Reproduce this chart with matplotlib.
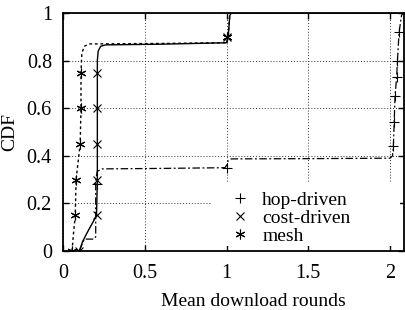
import matplotlib
matplotlib.use("Agg")
import matplotlib.pyplot as plt
from matplotlib.lines import Line2D
from matplotlib.patches import Rectangle

plt.rcParams['font.family'] = ['Liberation Serif', 'DejaVu Serif']

# hop-driven (dash-dot)
hop_x = [0.10, 0.13, 0.19, 0.20, 0.20, 0.21, 0.24, 0.60, 0.99, 1.00, 1.01, 1.03, 1.50, 2.00, 2.015, 2.02, 2.025, 2.03, 2.04, 2.045, 2.055, 2.07, 2.08]
hop_y = [0.00, 0.05, 0.05, 0.06, 0.30, 0.335, 0.345, 0.347, 0.350, 0.36, 0.38, 0.387, 0.388, 0.390, 0.40, 0.44, 0.54, 0.65, 0.73, 0.80, 0.92, 0.99, 1.00]
hop_mx = [0.21, 1.00, 2.02, 2.025, 2.03, 2.04, 2.045, 2.055]
hop_my = [0.28, 0.35, 0.44, 0.54, 0.65, 0.73, 0.80, 0.92]

# cost-driven (solid)
cost_x = [0.10, 0.12, 0.15, 0.19, 0.205, 0.21, 0.21, 0.21, 0.215, 0.23, 0.26, 0.60, 1.00, 1.01, 1.02, 1.03, 2.085]
cost_y = [0.00, 0.04, 0.08, 0.13, 0.15, 0.30, 0.60, 0.80, 0.84, 0.86, 0.866, 0.869, 0.875, 0.90, 0.99, 1.00, 1.00]
cost_mx = [0.10, 0.21, 0.21, 0.21, 0.21, 0.21, 1.00]
cost_my = [0.00, 0.15, 0.30, 0.45, 0.60, 0.75, 0.90]

# mesh (dashed)
mesh_x = [0.055, 0.065, 0.075, 0.08, 0.105, 0.11, 0.11, 0.115, 0.13, 0.16, 0.60, 1.00, 1.01, 1.02, 2.085]
mesh_y = [0.00, 0.08, 0.15, 0.30, 0.45, 0.60, 0.75, 0.83, 0.86, 0.87, 0.872, 0.875, 0.90, 1.00, 1.00]
mesh_mx = [0.055, 0.075, 0.08, 0.105, 0.11, 0.11, 1.00]
mesh_my = [0.00, 0.15, 0.30, 0.45, 0.60, 0.75, 0.90]

labels = ["hop-driven", "cost-driven", "mesh"]
xticks = [0, 0.5, 1, 1.5, 2]
yticks = [0, 0.2, 0.4, 0.6, 0.8, 1]

FS = 14.5
STAR = (6, 2, 0)

fig = plt.figure(figsize=(4.06, 3.10), dpi=100)
ax = fig.add_axes([63/406, 59/310, 341/406, 238/310])

ax.plot(hop_x, hop_y, color="black", lw=0.9, linestyle=(0, (6, 2, 1.5, 2)))
ax.plot(hop_mx, hop_my, "+", color="black", ms=7, mew=0.8)
ax.plot(cost_x, cost_y, color="black", lw=1.0, linestyle="-")
ax.plot(cost_mx, cost_my, "x", color="black", ms=5.5, mew=0.8)
ax.plot(mesh_x, mesh_y, color="black", lw=1.0, linestyle=(0, (2, 2)))
ax.plot(mesh_mx, mesh_my, marker=STAR, linestyle="none", color="black", ms=7, mew=0.8)

ax.set_xlim(0, 2.085)
ax.set_ylim(0, 1)
ax.set_xticks(xticks)
ax.set_xticklabels(["0", "0.5", "1", "1.5", "2"])
ax.set_yticks(yticks)
ax.set_yticklabels(["0", "0.2", "0.4", "0.6", "0.8", "1"])
ax.grid(True, linestyle=(0, (1, 2)), color="#333333", lw=0.7)
ax.set_axisbelow(True)
ax.tick_params(direction="in", length=4, width=1, top=True, right=True,
               labelsize=FS)
ax.tick_params(axis="x", pad=9)
ax.tick_params(axis="y", pad=8)
for s in ax.spines.values():
    s.set_linewidth(1.3)

# key area blanks the grid, as in the original
ax.add_patch(Rectangle((0.91, 0.02), 1.15, 0.27, facecolor="white",
                       edgecolor="none", zorder=1))

handles = [Line2D([], [], color="black", marker=m, linestyle="none", ms=ms, mew=0.8)
           for m, ms in [("+", 7), ("x", 5.5), (STAR, 7)]]
ax.legend(handles, labels, loc="lower left", bbox_to_anchor=(0.45, -0.03),
          frameon=False, fontsize=14, handlelength=1.0, handletextpad=0.65,
          labelspacing=0.02, borderpad=0.2)

ax.set_xlabel("Mean download rounds", fontsize=14)
ax.xaxis.set_label_coords(0.557, -0.175)
ax.set_ylabel("CDF", fontsize=14, labelpad=6)

fig.savefig("out.png", dpi=100)
